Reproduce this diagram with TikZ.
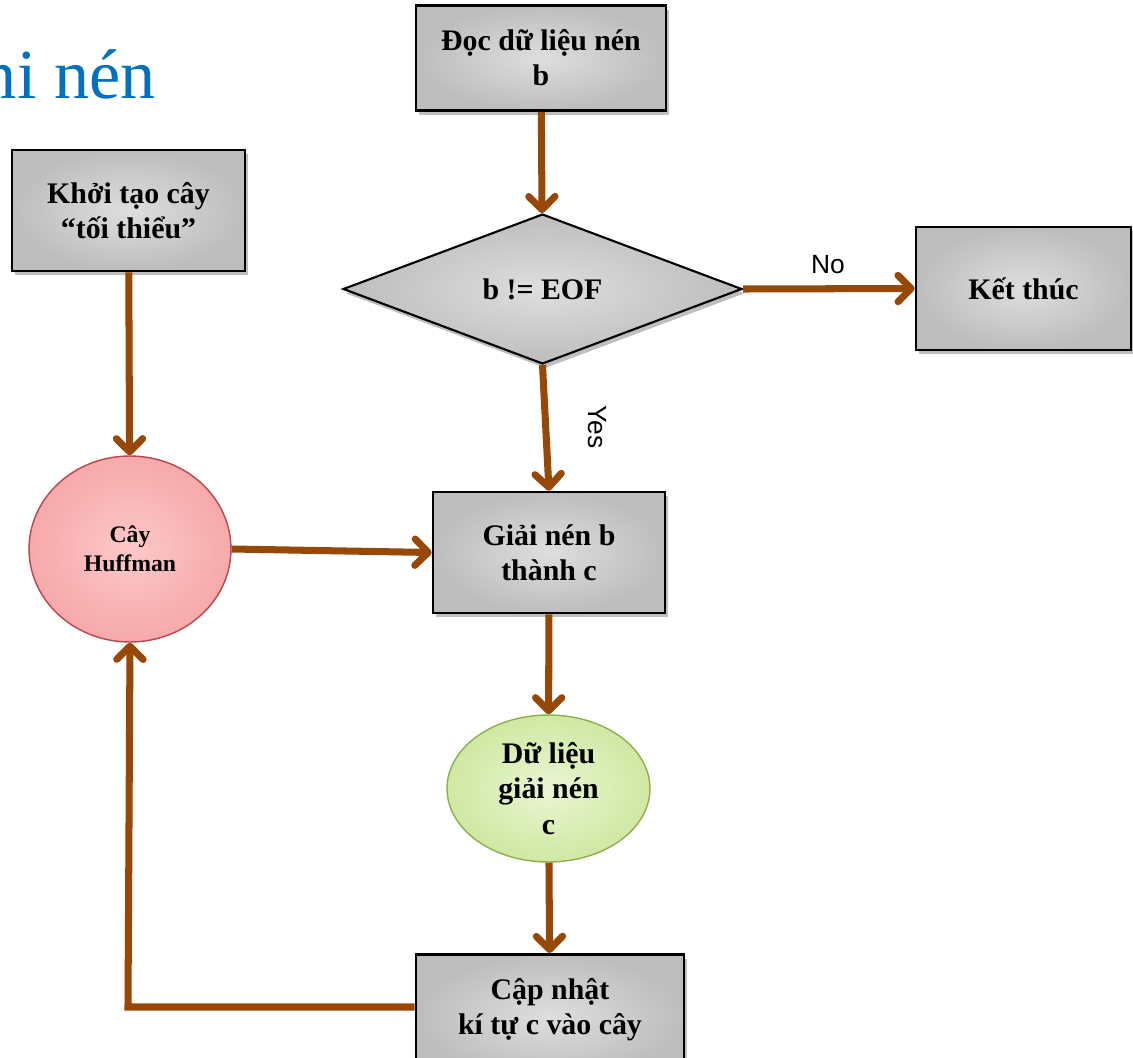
\documentclass[tikz,border=0pt]{standalone}
\usepackage{fontspec}
\setmainfont{Liberation Serif}
\newfontfamily\labelfont{Liberation Sans}
\usetikzlibrary{arrows.meta,shapes.geometric,shadows}

\definecolor{flowbrown}{HTML}{974806}
\definecolor{titleblue}{HTML}{0070C0}
\definecolor{boxin}{HTML}{DEDEDE}
\definecolor{boxout}{HTML}{BDBDBD}
\definecolor{pinkin}{HTML}{FDC8C8}
\definecolor{pinkout}{HTML}{F6A9AB}
\definecolor{pinkedge}{HTML}{B8474A}
\definecolor{greenin}{HTML}{EAF6D3}
\definecolor{greenout}{HTML}{CFE8A2}
\definecolor{greenedge}{HTML}{8DB04B}

\tikzset{
  x=0.02cm, y=-0.02cm,
  boxshade/.style={inner color=boxin, outer color=boxout},
  softshadow/.style={drop shadow={shadow xshift=1.5pt, shadow yshift=-2.5pt, opacity=0.25, fill=black}},
  procbox/.style={rectangle, draw=black, line width=1.5pt, boxshade, softshadow,
    align=center, font=\bfseries\fontsize{17}{20}\selectfont, inner sep=0pt},
  decision/.style={diamond, draw=black, line width=1.2pt, boxshade, softshadow,
    minimum width=7.98cm, minimum height=3cm, inner sep=0pt,
    font=\bfseries\fontsize{17}{20}\selectfont},
  treenode/.style={ellipse, draw=pinkedge, line width=0.8pt, inner color=pinkin, outer color=pinkout,
    minimum width=4.04cm, minimum height=3.72cm, inner sep=0pt, align=center,
    font=\bfseries\fontsize{13.5}{16.5}\selectfont},
  datanode/.style={ellipse, draw=greenedge, line width=0.8pt, inner color=greenin, outer color=greenout,
    minimum width=4.06cm, minimum height=2.94cm, inner sep=0pt, align=center,
    font=\bfseries\fontsize{17}{20}\selectfont},
  flow/.style={draw=flowbrown, line width=4pt,
    -{Straight Barb[length=7.5pt, width=15pt, round]}},
  branchlabel/.style={font=\labelfont\fontsize{15}{18}\selectfont, inner sep=0pt}
}

\begin{document}
\begin{tikzpicture}
  \useasboundingbox (0,0) rectangle (1133,1058);

  % heading
  \node[anchor=base east, text=titleblue, font=\fontsize{40}{46}\selectfont, inner sep=0pt]
    (heading) at (156,98) {ni nén};

  % process boxes
  \node[procbox, minimum width=5cm, minimum height=2.1cm] (read) at (541,58)
    {Đọc dữ liệu nén\\b};
  \node[procbox, minimum width=4.66cm, minimum height=2.42cm] (init) at (128.5,210.5)
    {Khởi tạo cây\\“tối thiểu”};
  \node[decision] (test) at (542.5,289) {b != EOF};
  \node[procbox, minimum width=4.3cm, minimum height=2.46cm] (stop) at (1023.5,288.5)
    {Kết thúc};
  \node[procbox, minimum width=4.64cm, minimum height=2.42cm] (decode) at (549,552.5)
    {Giải nén b\\thành c};
  \node[procbox, minimum width=5.36cm, minimum height=2.5cm, anchor=north] (update) at (550,953)
    {};
  \node[align=center, font=\bfseries\fontsize{17}{20}\selectfont, inner sep=0pt] (updatetext)
    at (550,1010) {Cập nhật\\kí tự c vào cây};

  % ellipses
  \node[treenode] (tree) at (130,549) {Cây\\Huffman};
  \node[datanode] (data) at (548.5,788.5) {Dữ liệu\\giải nén\\c};

  % connectors
  \draw[flow] (read) -- (test);
  \draw[flow] (test.east) -- (stop.west);
  \draw[flow] (test.south) -- (decode.north);
  \draw[flow] (init) -- (tree);
  \draw[flow] (tree.east) -- (decode.west);
  \draw[flow] (decode) -- (data);
  \draw[flow] (data) -- (update);
  \coordinate (corner) at (128,1007);
  \draw[flow] (update.west |- corner) -- (corner) -- (tree.south);

  % branch labels
  \node[branchlabel] (nolabel) at (828,265) {No};
  \node[branchlabel, rotate=-90] (yeslabel) at (597,427) {Yes};
\end{tikzpicture}
\end{document}
